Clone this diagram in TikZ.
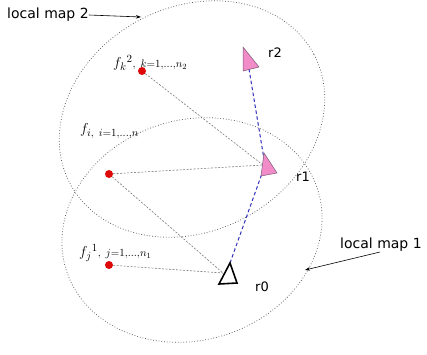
\documentclass[tikz,border=0pt]{standalone}
\usepackage{fontspec}
\setmainfont{DejaVu Sans}
\usetikzlibrary{arrows.meta}
\definecolor{dotred}{RGB}{222,10,10}
\definecolor{robopink}{RGB}{242,140,200}
\definecolor{robodge}{RGB}{120,90,120}
\definecolor{pathblue}{RGB}{50,50,190}
\tikzset{
  mapline/.style={draw=black!65, dotted, line width=0.75pt},
  feat/.style={circle, fill=dotred, draw=none, inner sep=0pt, minimum width=8pt, minimum height=7pt},
  obsline/.style={draw=black!55, dash pattern=on 2pt off 1.5pt, line width=0.55pt},
  trajline/.style={draw=pathblue, dash pattern=on 3.5pt off 2.5pt, line width=1pt},
  pinkbot/.style={fill=robopink, draw=robodge, line width=0.5pt, line join=miter},
  lbl/.style={inner sep=0pt, font=\fontsize{14}{16}\selectfont},
  rlbl/.style={inner sep=0pt, font=\fontsize{13}{15}\selectfont},
  flbl/.style={inner sep=0pt, font=\fontsize{15.5}{17}\selectfont},
  callout/.style={draw=black, line width=0.6pt, -{Stealth[length=5pt,width=3.5pt]}}
}
\begin{document}
\begin{tikzpicture}[x=1pt,y=-1pt]
\useasboundingbox (0,0) rectangle (427,354);
% local maps
\draw[mapline, rotate around={28:(192,119)}] (192,119) ellipse [x radius=138pt, y radius=112pt];
\draw[mapline, rotate around={18:(192,230)}] (192,230) ellipse [x radius=132pt, y radius=110pt];
% robot reference points
\coordinate (r0a) at (230,263);
\coordinate (r0b) at (219,284);
\coordinate (r0c) at (237,283);
\coordinate (r0o) at (223,273);
\coordinate (r1a) at (264,153);
\coordinate (r1b) at (261,176);
\coordinate (r1c) at (277,173);
\coordinate (r1o) at (263,165);
\coordinate (r1m) at (265,165);
\coordinate (r2a) at (243,47);
\coordinate (r2b) at (243,71);
\coordinate (r2c) at (259,67);
\coordinate (r2m) at (249,69);
% features
\node[feat] (fk) at (142,71) {};
\node[feat] (fi) at (109,174) {};
\node[feat] (fj) at (109,265) {};
% observations
\draw[obsline] (fk) -- (r1o);
\draw[obsline] (fi) -- (r1o);
\draw[obsline] (fi) -- (r0o);
\draw[obsline] (fj) -- (r0o);
% trajectory
\draw[trajline] (r0a) -- (r1m) -- (r2m);
% robots
\draw[draw=black, line width=1.6pt, line join=miter, fill=white] (r0a) -- (r0b) -- (r0c) -- cycle;
\draw[pinkbot] (r1a) -- (r1b) -- (r1c) -- cycle;
\draw[pinkbot] (r2a) -- (r2b) -- (r2c) -- cycle;
% labels
\node[rlbl, anchor=west] (l0) at (255,287) {r0};
\node[rlbl, anchor=west] (l1) at (296,177) {r1};
\node[rlbl, anchor=west] (l2) at (268,53) {r2};
\node[flbl, anchor=west] (lk) at (113,63) {$f_{k}{}^{2}{\scriptstyle,\ k=1,\ldots,n_2}$};
\node[flbl, anchor=west] (li) at (80,131) {$f_{i,\ i=1,\ldots,n}$};
\node[flbl, anchor=west] (lj) at (79,253) {$f_{j}{}^{1}{\scriptstyle,\ j=1,\ldots,n_1}$};
% callouts
\node[lbl, anchor=west] (m2) at (7,15) {local map 2};
\node[lbl, anchor=west] (m1) at (340,245) {local map 1};
\coordinate (m2tip) at (141,17);
\coordinate (m1tip) at (305,270);
\draw[callout] (m2.east) -- (m2tip);
\draw[callout] (380,252) -- (m1tip);
\end{tikzpicture}
\end{document}
